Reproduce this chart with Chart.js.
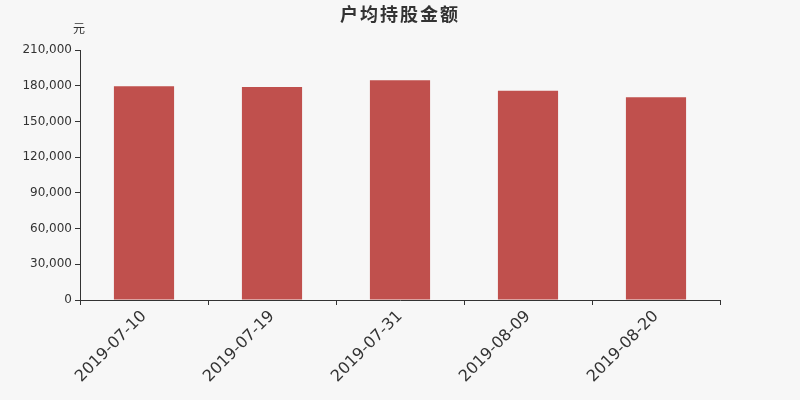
<!DOCTYPE html>
<html>
<head>
<meta charset="utf-8">
<script src="https://cdn.jsdelivr.net/npm/chart.js@4"></script>
<style>
  html, body { margin: 0; padding: 0; background: #f7f7f7; }
  #wrap { width: 800px; height: 400px; }
</style>
</head>
<body>
<div id="wrap"><canvas id="chart"></canvas></div>
<script>
// data
const dates = ['2019-07-10', '2019-07-19', '2019-07-31', '2019-08-09', '2019-08-20'];
const amounts = [179600, 178900, 184500, 175800, 170300];
const yTicks = [0, 30000, 60000, 90000, 120000, 150000, 180000, 210000];

const FONT = '"DejaVu Sans", "Noto Sans CJK SC", sans-serif';

// title and unit text
const headerPlugin = {
    id: 'header',
    afterDraw(chart) {
        const ctx = chart.ctx;
        ctx.save();
        ctx.fillStyle = '#333';
        ctx.textAlign = 'center';
        ctx.textBaseline = 'middle';
        ctx.font = 'bold 18px "Noto Sans CJK SC", sans-serif';
        ctx.letterSpacing = '2px';
        ctx.fillText('户均持股金额', 400, 14);
        ctx.letterSpacing = '0px';
        ctx.font = '12px "Noto Sans CJK SC", sans-serif';
        ctx.fillText('元', 79, 28);
        ctx.restore();
    }
};

const bg = {
    id: 'bg',
    beforeDraw(chart) {
        const ctx = chart.ctx;
        ctx.save();
        ctx.fillStyle = '#f7f7f7';
        ctx.fillRect(0, 0, chart.width, chart.height);
        ctx.restore();
    }
};

new Chart(document.getElementById('chart').getContext('2d'), {
    type: 'bar',
    data: {
        labels: dates,
        datasets: [{
            data: amounts,
            backgroundColor: '#c0504d',
            borderWidth: 0,
            categoryPercentage: 1,
            barPercentage: 0.47
        }]
    },
    options: {
        responsive: true,
        maintainAspectRatio: false,
        animation: false,
        layout: { padding: { left: 0, right: 80, top: 50, bottom: 0 } },
        plugins: { legend: { display: false }, tooltip: { enabled: false } },
        scales: {
            x: {
                afterFit(scale) { scale.height = 100; },
                grid: { offset: true, drawOnChartArea: false, tickLength: 5, color: '#333' },
                border: { color: '#333', width: 1 },
                ticks: {
                    color: '#333',
                    font: { family: FONT, size: 16 },
                    minRotation: 45,
                    maxRotation: 45,
                    padding: 2
                }
            },
            y: {
                min: 0,
                max: 210000,
                afterFit(scale) { scale.width = 80; },
                afterBuildTicks(scale) { scale.ticks = yTicks.map(v => ({ value: v })); },
                grid: { drawOnChartArea: false, tickLength: 5, color: '#333' },
                border: { color: '#333', width: 1 },
                ticks: {
                    color: '#333',
                    font: { family: FONT, size: 12 },
                    padding: 3,
                    callback: v => v.toLocaleString('en-US')
                }
            }
        }
    },
    plugins: [bg, headerPlugin]
});
</script>
</body>
</html>
